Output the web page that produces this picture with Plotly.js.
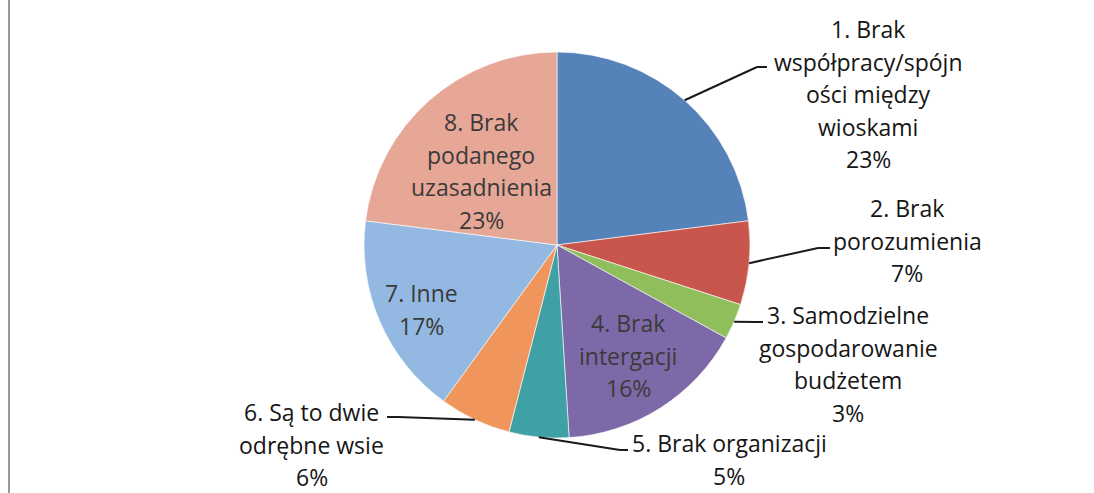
<!DOCTYPE html>
<html>
<head>
<meta charset="utf-8">
<script src="https://cdn.plot.ly/plotly-3.0.1.min.js"></script>
<style>html,body{margin:0;padding:0;background:#fff;}#chart{width:1094px;height:493px;}</style>
</head>
<body>
<div id="chart"></div>
<script>
// ---- data ----
const categories = [
  "1. Brak\nwspółpracy/spójn\ności między\nwioskami",
  "2. Brak\nporozumienia",
  "3. Samodzielne\ngospodarowanie\nbudżetem",
  "4. Brak\nintergacji",
  "5. Brak organizacji",
  "6. Są to dwie\nodrębne wsie",
  "7. Inne",
  "8. Brak\npodanego\nuzasadnienia"
];
const values = [23, 7, 3, 16, 5, 6, 17, 23];
const sliceColors = ["#5682BA", "#C9564D", "#8FBE5B", "#7E69A8", "#3FA1A6", "#F0965C", "#93B9E2", "#E7A797"];

// ---- layout helpers (positions in px) ----
const W = 1094, H = 493;
const cx = 557, cy = 245, R = 193;
const lineGap = 32.5;
// label placement: first-line centre, inside/outside, leader elbow points
const labelPlace = [
  {x: 868, y: 29, inside: false, elbow: [[757, 67], [767, 67]]},
  {x: 907, y: 208, inside: false, elbow: [[818, 248], [830, 248]]},
  {x: 848, y: 315, inside: false, elbow: [[756, 322], [763, 322]]},
  {x: 628, y: 323, inside: true},
  {x: 729, y: 443, inside: false, elbow: [[620, 450], [628, 450]]},
  {x: 312, y: 412, inside: false, elbow: [[398, 417], [387, 417]]},
  {x: 421, y: 293, inside: true},
  {x: 481, y: 122, inside: true}
];

const px = x => x / W;
const py = y => 1 - y / H;

const total = values.reduce((a, b) => a + b, 0);
const annotations = [];
const shapes = [];
let cum = 0;
values.forEach((v, i) => {
  const mid = (cum + v / 2) / total * 2 * Math.PI;
  cum += v;
  const lines = categories[i].split("\n").concat([Math.round(v / total * 100) + "%"]);
  const p = labelPlace[i];
  lines.forEach((t, k) => {
    annotations.push({
      xref: "paper", yref: "paper", x: px(p.x), y: py(p.y + k * lineGap),
      xanchor: "center", yanchor: "middle", showarrow: false, text: t,
      font: {family: "'Open Sans', Lato, sans-serif", size: 23, color: p.inside ? "#3a3a3a" : "#161616"}
    });
  });
  if (!p.inside) {
    const ex = cx + R * Math.sin(mid), ey = cy - R * Math.cos(mid);
    const pts = [[ex, ey]].concat(p.elbow);
    for (let s = 0; s < pts.length - 1; s++) {
      shapes.push({type: "line", xref: "paper", yref: "paper",
        x0: px(pts[s][0]), y0: py(pts[s][1]), x1: px(pts[s + 1][0]), y1: py(pts[s + 1][1]),
        line: {color: "#1a1a1a", width: 2}});
    }
  }
});
// left page border from the scan
shapes.push({type: "line", xref: "paper", yref: "paper", x0: px(9), x1: px(9), y0: 0, y1: 1,
  line: {color: "#9a9a9a", width: 2}});

const trace = {
  type: "pie",
  labels: categories.map(c => c.replace(/\n/g, " ")),
  values: values,
  sort: false,
  direction: "clockwise",
  rotation: 0,
  textinfo: "none",
  hoverinfo: "label+percent",
  marker: {colors: sliceColors, line: {color: "rgba(255,255,255,0.6)", width: 1}},
  domain: {x: [(cx - R) / W, (cx + R) / W], y: [1 - (cy + R) / H, 1 - (cy - R) / H]},
  showlegend: false
};

Plotly.newPlot("chart", [trace], {
  width: W, height: H,
  margin: {l: 0, r: 0, t: 0, b: 0},
  paper_bgcolor: "#ffffff",
  plot_bgcolor: "#ffffff",
  showlegend: false,
  annotations: annotations,
  shapes: shapes
}, {displayModeBar: false, staticPlot: true});
</script>
</body>
</html>
